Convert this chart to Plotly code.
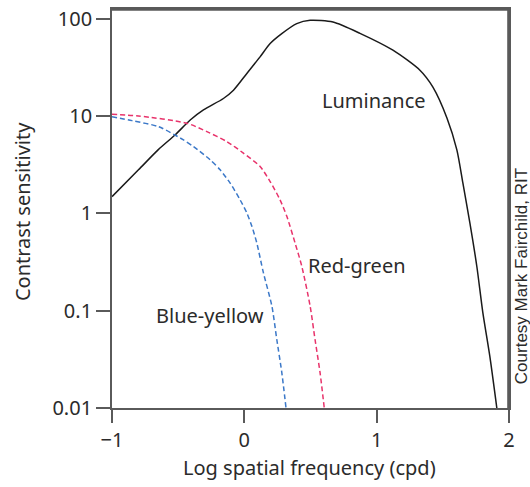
import plotly.graph_objects as go

# Luminance contrast sensitivity (log cpd, sensitivity)
lum_x = [-1.0, -0.80, -0.65, -0.522, -0.409, -0.309, -0.158, -0.082, 0.019, 0.119,
         0.195, 0.283, 0.396, 0.497, 0.670, 0.874, 1.123, 1.327, 1.425, 1.531, 1.606,
         1.651, 1.704, 1.757, 1.802, 1.855, 1.908]
lum_y = [1.49, 2.81, 4.53, 6.45, 9.14, 11.6, 15.2, 18.5, 27.5, 40.7,
         55.8, 70.6, 89.5, 96.8, 93.0, 71.1, 47.7, 29.7, 19.9, 9.59, 4.5,
         2.07, 0.805, 0.285, 0.0963, 0.0341, 0.01]

rg_x = [-1.0, -0.80, -0.434, -0.283, -0.132, -0.007, 0.119, 0.195, 0.270, 0.321, 0.383,
        0.434, 0.497, 0.534, 0.572, 0.604]
rg_y = [10.45, 10.05, 8.46, 6.94, 5.48, 4.17, 3.04, 2.13, 1.38, 0.934, 0.499,
        0.287, 0.112, 0.0509, 0.0232, 0.01]

by_x = [-1.0, -0.849, -0.648, -0.460, -0.384, -0.258, -0.183, -0.107, -0.032, 0.019, 0.057,
        0.094, 0.144, 0.208, 0.245, 0.283, 0.315]
by_y = [9.89, 9.0, 7.80, 5.70, 4.87, 3.56, 2.81, 2.05, 1.38, 1.01, 0.738,
        0.499, 0.246, 0.112, 0.0509, 0.0232, 0.01]

x_ticks = [-1, 0, 1, 2]
x_tick_text = ["\u22121", "0", "1", "2"]
y_ticks = [0.01, 0.1, 1, 10, 100]
y_tick_text = ["0.01", "0.1", "1", "10", "100"]

FONT = "Noto Sans"
TXT = "#2b2b2b"
AX = "#5a5a5a"
FS = 20

fig = go.Figure()
fig.add_trace(go.Scatter(x=lum_x, y=lum_y, mode="lines",
                         line=dict(color="#1a1a1a", width=1.5, shape="spline", smoothing=0.7), showlegend=False))
fig.add_trace(go.Scatter(x=rg_x, y=rg_y, mode="lines",
                         line=dict(color="#e8336b", width=1.5, dash="5px,3px", shape="spline", smoothing=0.7), showlegend=False))
fig.add_trace(go.Scatter(x=by_x, y=by_y, mode="lines",
                         line=dict(color="#3b78c8", width=1.5, dash="5px,3px", shape="spline", smoothing=0.7), showlegend=False))

def label(x, y, text, xref="x", yref="y", angle=0, family=FONT, size=FS):
    fig.add_annotation(x=x, y=y, xref=xref, yref=yref, text=text, textangle=angle,
                       showarrow=False, xanchor="center", yanchor="middle",
                       font=dict(family=family, size=size, color=TXT))

# curve labels (y in log10 units for the log axis)
label(0.980, 1.166, "Luminance")
label(0.851, -0.540, "Red-green")
label(-0.259, -1.054, "Blue-yellow")

# axis titles
label(-0.2267, 0.491, "Contrast sensitivity", "paper", "paper", angle=-90)
label(0.4987, -0.1479, "Log spatial frequency (cpd)", "paper", "paper")
# credit
label(1.032, 0.3296, "Courtesy Mark Fairchild, RIT", "paper", "paper", angle=-90,
      family="Liberation Sans", size=17)

# top and right frame edges (drawn just inside the plot area)
fig.add_shape(type="line", xref="paper", yref="paper", x0=0, x1=1, y0=0.998, y1=0.998,
              line=dict(color=AX, width=2), layer="above")
fig.add_shape(type="line", xref="paper", yref="paper", x0=0.998, x1=0.998, y0=0, y1=1,
              line=dict(color=AX, width=2), layer="above")

fig.update_xaxes(range=[-1, 2], tickvals=x_ticks, ticktext=x_tick_text, showgrid=False, zeroline=False,
                 showline=True, linecolor=AX, linewidth=1.8, mirror=True, automargin=False,
                 ticks="outside", ticklen=13, tickwidth=1.8, tickcolor=AX, ticklabeloverflow="allow",
                 tickfont=dict(family=FONT, size=FS, color=TXT))
fig.update_yaxes(type="log", range=[-2, 2.102], tickvals=y_ticks, ticktext=y_tick_text, showgrid=False, zeroline=False,
                 showline=True, linecolor=AX, linewidth=1.8, mirror=True, automargin=False,
                 ticks="outside", ticklen=14, tickwidth=1.8, tickcolor=AX, ticklabeloverflow="allow",
                 tickfont=dict(family=FONT, size=FS, color=TXT))

fig.update_layout(width=530, height=487, margin=dict(l=112, r=21, t=9, b=79, autoexpand=False),
                  paper_bgcolor="white", plot_bgcolor="white")
fig.write_html("out.html", config={"displayModeBar": False},
               post_script="document.body.style.margin='0';document.body.style.overflow='hidden';")
